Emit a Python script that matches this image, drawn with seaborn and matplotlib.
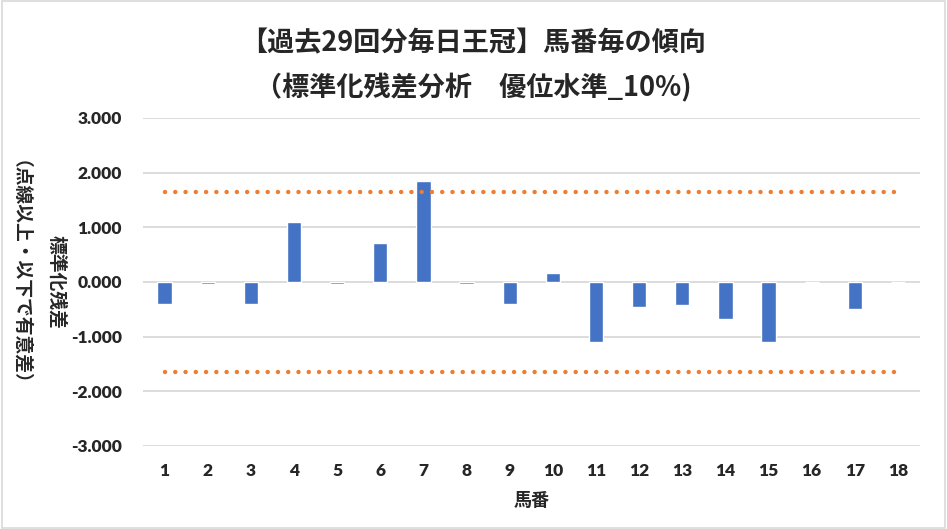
import numpy as np
import pandas as pd
import matplotlib
matplotlib.use("Agg")
import matplotlib.pyplot as plt
import seaborn as sb

# horse numbers and standardised residuals
horse_no = [str(i) for i in range(1, 19)]
residual = [-0.40, -0.04, -0.40, 1.09, -0.04, 0.71, 1.84, -0.04, -0.40,
            0.16, -1.10, -0.46, -0.42, -0.68, -1.10, 0.0, -0.49, 0.0]
# 10% significance level (two sided)
upper = [1.645] * len(horse_no)
lower = [-1.645] * len(horse_no)

title = "【過去29回分毎日王冠】馬番毎の傾向\n（標準化残差分析　優位水準_10%)"

sb.set_theme(style="white")
plt.rcParams['font.family'] = ['Noto Sans CJK JP', 'DejaVu Sans']

df = pd.DataFrame({"horse": horse_no, "resid": residual})

fig = plt.figure(figsize=(9.47, 5.29), dpi=100)
ax = fig.add_axes([0.151, 0.157, 0.820, 0.620])

sb.barplot(data=df, x="horse", y="resid", color="#4472C4", saturation=1,
           width=0.33, ax=ax, zorder=3)

pos = np.arange(len(horse_no))
for lvl in (upper, lower):
    ax.plot(pos, lvl, color="#ED7D31", lw=3.2, linestyle=(0, (0.01, 2.3)),
            dash_capstyle="round", zorder=4)

ax.set_ylim(-3, 3)
ax.set_xlim(-0.5, len(horse_no) - 0.5)
ax.set_yticks(np.arange(-3, 4, 1))
ax.set_yticklabels([f"{v:.3f}" for v in np.arange(-3, 4, 1)],
                   fontfamily="Lato", fontweight="heavy", fontsize=12.5)
ax.set_xticks(pos)
ax.set_xticklabels(horse_no, fontfamily="Lato", fontweight="heavy", fontsize=12.5)
ax.tick_params(axis="y", length=0, pad=15)
ax.tick_params(axis="x", length=0, pad=12)
ax.grid(axis="y", color="#D9D9D9", lw=1.3, zorder=0)
ax.set_axisbelow(True)
for s in ax.spines.values():
    s.set_visible(False)

ax.set_xlabel("馬番", fontsize=13, fontweight="bold", labelpad=9)
# y label reads top to bottom, as in the original
ax.set_ylabel("標準化残差\n（点線以上・以下で有意差）", fontsize=13.5,
              fontweight="bold", labelpad=4, linespacing=2.75,
              rotation=270, va="top")

fig.suptitle(title, fontsize=19.5, fontweight="bold", y=0.945, linespacing=1.7)

# light frame round the figure
fig.patches.append(plt.Rectangle((0.002, 0.002), 0.996, 0.996, transform=fig.transFigure,
                                 fill=False, edgecolor="#D9D9D9", lw=1.2))

fig.savefig("out.png", dpi=100)
